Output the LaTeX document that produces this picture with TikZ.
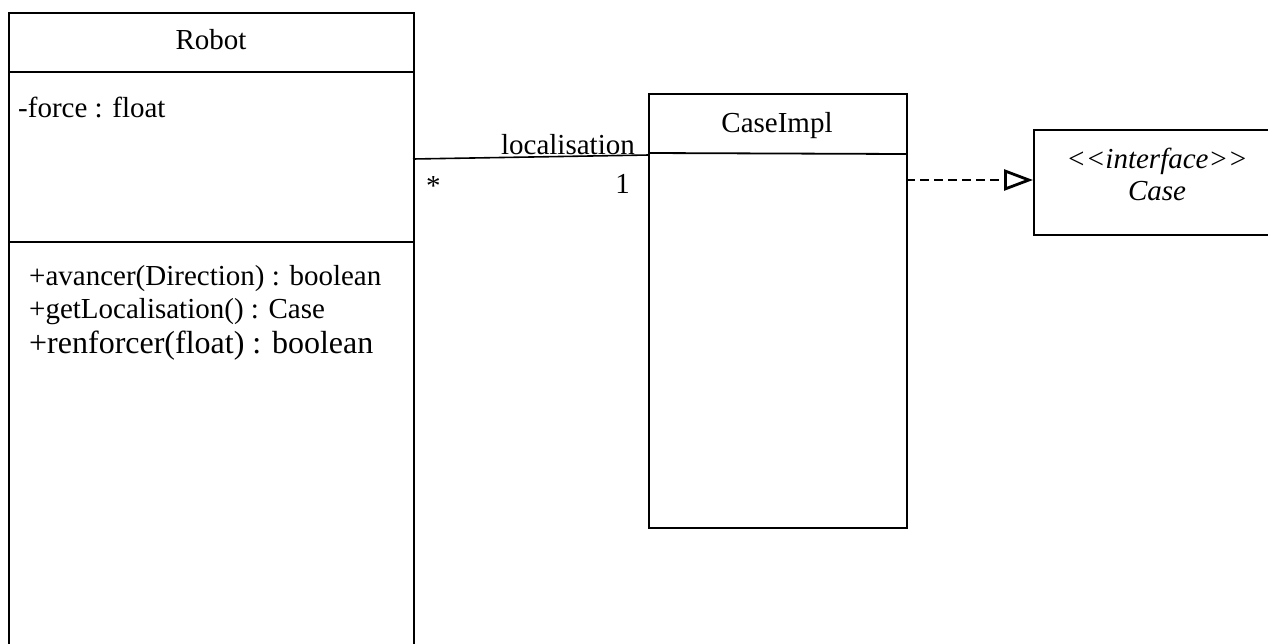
\documentclass[tikz,border=0pt]{standalone}
\usepackage{fontspec}
\setmainfont{Liberation Serif}
\usetikzlibrary{arrows.meta}
\begin{document}
\begin{tikzpicture}[x=1pt,y=-1pt,
  box/.style={draw, line width=1.8pt, rectangle, inner sep=0pt, anchor=north west},
  sepline/.style={line width=1.8pt},
  txt/.style={inner sep=0pt, font=\fontsize{29}{34}\selectfont},
  bigtxt/.style={inner sep=0pt, font=\fontsize{32}{36}\selectfont},
  assoc/.style={line width=1.6pt},
  realize/.style={line width=1.6pt, dash pattern=on 9pt off 5pt,
    -{Triangle[open, length=29pt, width=21pt, line width=2.8pt]}}]
\useasboundingbox (0,0) rectangle (1268,643);
\clip (0,0) rectangle (1268,643);
\fill[white] (0,0) rectangle (1268,643);

% Robot class
\node[box, minimum width=405pt, minimum height=680pt] (robot) at (8,12) {};
\draw[sepline] (8,72) -- (413,72);
\draw[sepline] (8,242) -- (413,242);
\node[txt, anchor=base] (robotname) at (211,49) {Robot};
\node[txt, anchor=base west] (attr) at (18,117) {-force : float};
\node[txt, anchor=base west] (m1) at (29,285) {+avancer(Direction) : boolean};
\node[txt, anchor=base west] (m2) at (29,318) {+getLocalisation() : Case};
\node[bigtxt, anchor=base west] (m3) at (29,353) {+renforcer(float) : boolean};

% CaseImpl class
\node[box, minimum width=258pt, minimum height=434pt] (impl) at (648,93) {};
\draw[sepline] (648,153) -- (906,154);
\node[txt, anchor=base] (implname) at (777,132) {CaseImpl};

% Case interface
\node[box, minimum width=248pt, minimum height=105pt] (case) at (1033,129) {};
\node[txt, anchor=base, font=\fontsize{29}{34}\selectfont\itshape] (stereo) at (1157,168) {<{}<interface>{}>};
\node[txt, anchor=base, font=\fontsize{29}{34}\selectfont\itshape] (casename) at (1157,200) {Case};

% association
\coordinate (a1) at (413,159);
\coordinate (a2) at (649,155);
\draw[assoc] (a1) -- (a2);
\node[txt, anchor=base east] (role) at (635,154) {localisation};
\node[txt, anchor=base west] (multA) at (426,195) {*};
\node[txt, anchor=base east] (multB) at (630,193) {1};

% realization
\coordinate (r1) at (906,180);
\coordinate (r2) at (1033,180);
\draw[realize] (r1) -- (r2);
\end{tikzpicture}
\end{document}
